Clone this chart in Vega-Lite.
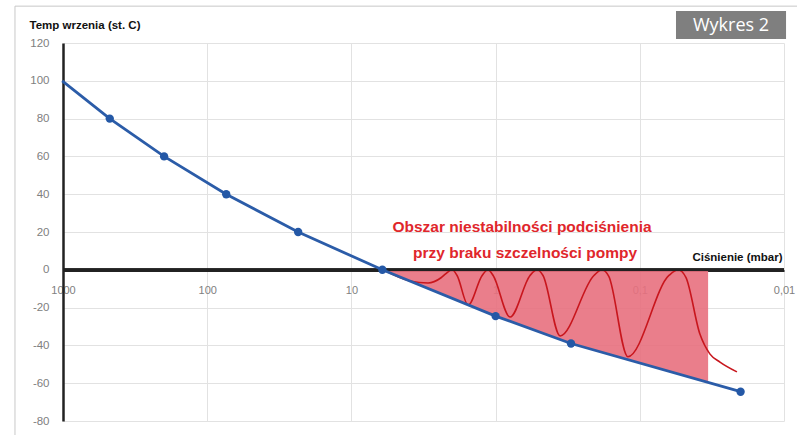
{
  "$schema": "https://vega.github.io/schema/vega-lite/v6.json",
  "width": 721,
  "height": 378,
  "autosize": "none",
  "padding": {"left": 63, "top": 43, "right": 13, "bottom": 14},
  "background": "white",
  "config": {"view": {"stroke": null}, "font": "Liberation Sans"},
  "datasets": {
    "boil": [
      {"p": 1013, "t": 100, "dot": false},
      {"p": 474, "t": 80, "dot": true},
      {"p": 199, "t": 60, "dot": true},
      {"p": 73.8, "t": 40, "dot": true},
      {"p": 23.4, "t": 20, "dot": true},
      {"p": 6.1, "t": 0, "dot": true},
      {"p": 1, "t": -24.5, "dot": true},
      {"p": 0.3, "t": -39, "dot": true},
      {"p": 0.02, "t": -64.5, "dot": true}
    ],
    "region": [
      {"p": 6.1, "t": 0},
      {"p": 1, "t": -24.5},
      {"p": 0.3, "t": -39},
      {"p": 0.0336, "t": -59.5}
    ],
    "wave": [
      {"p": 6.0, "t": 0},
      {"p": 3.93, "t": -5.9},
      {"p": 2.94, "t": -7.0},
      {"p": 2.39, "t": -4.2},
      {"p": 2.21, "t": -2.0},
      {"p": 2.0, "t": 0},
      {"p": 1.85, "t": -3},
      {"p": 1.55, "t": -18.7},
      {"p": 1.24, "t": -3},
      {"p": 1.13, "t": 0},
      {"p": 1.04, "t": -3},
      {"p": 0.794, "t": -25},
      {"p": 0.577, "t": -3},
      {"p": 0.516, "t": 0},
      {"p": 0.469, "t": -3},
      {"p": 0.357, "t": -35},
      {"p": 0.208, "t": -3},
      {"p": 0.183, "t": 0},
      {"p": 0.164, "t": -3.5},
      {"p": 0.121, "t": -46},
      {"p": 0.0628, "t": -3},
      {"p": 0.0543, "t": 0},
      {"p": 0.0479, "t": -4},
      {"p": 0.0383, "t": -34},
      {"p": 0.0326, "t": -44.6},
      {"p": 0.0278, "t": -48.8},
      {"p": 0.0212, "t": -54}
    ],
    "notes": [
      {"p": 0.656, "t": 22.6, "label": "Obszar niestabilności podciśnienia"},
      {"p": 0.625, "t": 8.8, "label": "przy braku szczelności pompy"}
    ],
    "badge": [
      {"p": 0.0561, "p2": 0.00968, "t": 136.9, "t2": 122.1, "tc": 129, "pc": 0.0233, "label": "Wykres 2"}
    ],
    "frame": [
      {"p": 2153, "p2": 0.0077, "t": 139.5, "t2": -90}
    ]
  },
  "encoding": {
    "x": {
      "field": "p",
      "type": "quantitative",
      "scale": {"type": "log", "domain": [0.01, 1000], "reverse": true, "nice": false},
      "axis": {
        "values": [1000, 100, 10, 1, 0.1, 0.01],
        "labelExpr": "replace(format(datum.value, '~f'), '.', ',')",
        "labelFlush": false,
        "labelOverlap": false,
        "labelBound": false,
        "offset": -150.6,
        "domain": true,
        "domainColor": "#222222",
        "domainWidth": 2,
        "ticks": false,
        "grid": true,
        "gridColor": "#e2e2e2",
        "gridWidth": 1,
        "labelColor": "#808080",
        "labelFontSize": 11,
        "labelPadding": 14,
        "title": "Ciśnienie (mbar)",
        "titleFontSize": 11.5,
        "titleFontWeight": "bold",
        "titleColor": "#111111",
        "titleAlign": "right",
        "titleBaseline": "middle",
        "titleX": 719,
        "titleY": -12.7
      }
    },
    "y": {
      "field": "t",
      "type": "quantitative",
      "scale": {"domain": [-80, 120], "nice": false, "zero": false},
      "axis": {
        "values": [-80, -60, -40, -20, 0, 20, 40, 60, 80, 100, 120],
        "labelExpr": "datum.value + ''",
        "labelFlush": false,
        "domain": true,
        "domainColor": "#222222",
        "domainWidth": 2.5,
        "ticks": false,
        "grid": true,
        "gridColor": "#e2e2e2",
        "gridWidth": 1,
        "labelColor": "#808080",
        "labelFontSize": 11.5,
        "labelPadding": 14,
        "title": "Temp wrzenia (st. C)",
        "titleAngle": 0,
        "titleAlign": "left",
        "titleBaseline": "middle",
        "titleFontSize": 11.5,
        "titleFontWeight": "bold",
        "titleColor": "#111111",
        "titleX": -34,
        "titleY": -18
      }
    }
  },
  "layer": [
    {
      "data": {"name": "frame"},
      "mark": {"type": "rect", "fill": null, "stroke": "#c8c8c8", "strokeWidth": 1},
      "encoding": {
        "x2": {"field": "p2"},
        "y2": {"field": "t2"}
      }
    },
    {
      "data": {"name": "region"},
      "mark": {"type": "area", "color": "#e8707e", "opacity": 0.9},
      "encoding": {
        "y2": {"datum": 0}
      }
    },
    {
      "data": {"name": "wave"},
      "mark": {"type": "line", "color": "#c8161d", "strokeWidth": 1.6, "interpolate": "monotone"},
      "encoding": {}
    },
    {
      "data": {"name": "boil"},
      "mark": {"type": "rule", "color": "#222222", "strokeWidth": 2},
      "encoding": {"x": null, "y": {"datum": 0}}
    },
    {
      "data": {"name": "boil"},
      "mark": {"type": "line", "color": "#2b5ca8", "strokeWidth": 2.8},
      "encoding": {}
    },
    {
      "data": {"name": "boil"},
      "transform": [{"filter": "datum.dot"}],
      "mark": {"type": "point", "filled": true, "color": "#2458a6", "size": 70, "opacity": 1},
      "encoding": {}
    },
    {
      "data": {"name": "notes"},
      "mark": {"type": "text", "color": "#e0262b", "fontSize": 15.5, "fontWeight": "bold", "font": "Liberation Sans", "baseline": "middle", "align": "center"},
      "encoding": {"text": {"field": "label"}}
    },
    {
      "data": {"name": "badge"},
      "mark": {"type": "rect", "color": "#7f7f7f"},
      "encoding": {
        "x2": {"field": "p2"},
        "y2": {"field": "t2"}
      }
    },
    {
      "data": {"name": "badge"},
      "mark": {"type": "text", "color": "white", "fontSize": 18, "font": "Open Sans", "baseline": "middle", "align": "center"},
      "encoding": {
        "x": {"field": "pc", "type": "quantitative"},
        "y": {"field": "tc", "type": "quantitative"},
        "text": {"field": "label"}
      }
    }
  ]
}
